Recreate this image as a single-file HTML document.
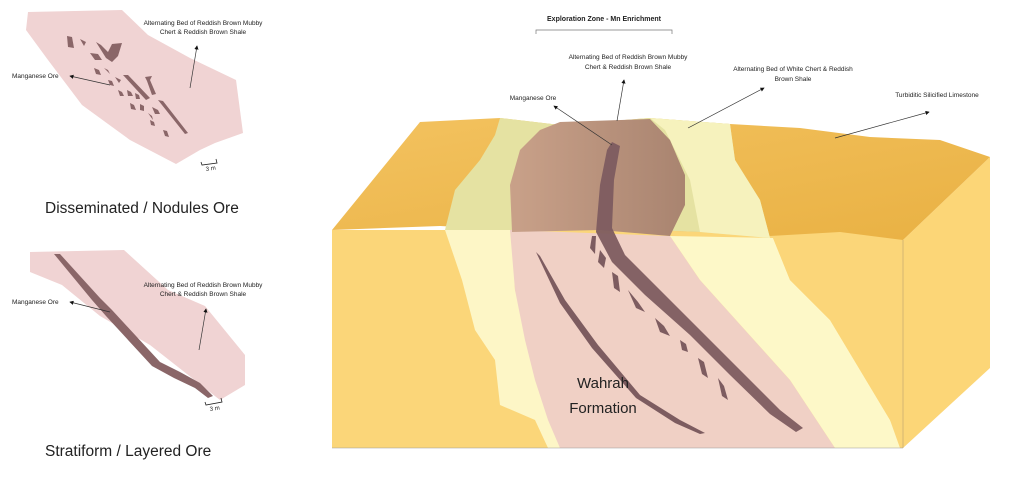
<!DOCTYPE html>
<html><head><meta charset="utf-8"><style>
html,body{margin:0;padding:0;background:#fff;}
svg{display:block;font-family:"Liberation Sans",sans-serif;}
</style></head><body>
<svg width="1024" height="490" viewBox="0 0 1024 490" xmlns="http://www.w3.org/2000/svg">
<defs>
<marker id="ah" markerWidth="6" markerHeight="6" refX="5" refY="3" orient="auto"><path d="M0,0 L6,3 L0,6 z" fill="#111"/></marker>
<linearGradient id="topO" x1="0" y1="0" x2="1" y2="1"><stop offset="0" stop-color="#f3c25f"/><stop offset="1" stop-color="#e9b143"/></linearGradient>
<linearGradient id="brn" x1="0" y1="0" x2="1" y2="0"><stop offset="0" stop-color="#c9a189"/><stop offset="1" stop-color="#a98470"/></linearGradient>
</defs>

<!-- Left top diagram -->
<path d="M28,12 L122,10 L148,35 L190,58 L236,80 L243,133 L215,143 L200,150 L176,164 L130,140 L82,105 L48,60 L26,30 Z" fill="#f0d3d3"/>
<g fill="#8a6668">
<path d="M67,36 L72,37 L74,48 L68,47 Z"/><path d="M80,39 L86,42 L84,46 Z"/>
<path d="M96,42 L101,45 L108,52 L112,44 L122,43 L118,56 L112,62 L106,58 Z"/>
<path d="M90,53 L98,54 L102,60 L95,60 Z"/>
<path d="M94,68 L99,70 L101,75 L96,74 Z"/><path d="M104,68 L108,70 L110,74 Z"/>
<path d="M108,80 L112,81 L114,86 L110,85 Z"/><path d="M115,77 L121,80 L119,83 Z"/>
<path d="M123,75 L128,75 L150,98 L146,100 Z"/><path d="M145,77 L152,76 L150,80 L156,94 L152,95 L147,81 Z"/>
<path d="M118,90 L122,92 L124,96 L120,96 Z"/><path d="M127,90 L131,92 L133,96 L128,96 Z"/>
<path d="M135,93 L139,95 L140,99 L136,99 Z"/>
<path d="M130,103 L134,105 L136,110 L131,109 Z"/><path d="M140,104 L144,106 L144,111 L140,110 Z"/>
<path d="M152,107 L158,110 L160,114 L155,114 Z"/><path d="M148,113 L152,116 L153,120 Z"/>
<path d="M150,120 L154,122 L155,126 L151,125 Z"/>
<path d="M158,100 L163,101 L188,133 L185,134 Z"/>
<path d="M163,130 L167,131 L169,137 L165,136 Z"/>
</g>
<text x="203" y="25" font-size="6.5" text-anchor="middle" fill="#222">Alternating Bed of Reddish Brown Mubby</text>
<text x="203" y="34" font-size="6.5" text-anchor="middle" fill="#222">Chert &amp; Reddish Brown Shale</text>
<line x1="190" y1="88" x2="197" y2="46" stroke="#333" stroke-width="0.7" marker-end="url(#ah)"/>
<text x="12" y="78" font-size="6.5" fill="#222">Manganese Ore</text>
<line x1="110" y1="85" x2="70" y2="76" stroke="#333" stroke-width="0.7" marker-end="url(#ah)"/>
<path d="M201,162 L202,165 L217,163 L216,159" stroke="#222" stroke-width="0.8" fill="none"/>
<text x="206" y="171" font-size="6" fill="#222" transform="rotate(-8 206 171)">3 m</text>
<text x="45" y="213" font-size="15.5" fill="#222">Disseminated / Nodules Ore</text>

<!-- Left bottom diagram -->
<path d="M30,252 L124,250 L168,290 L205,306 L245,355 L245,385 L220,400 L150,345 L100,316 L62,285 L30,272 Z" fill="#f0d3d3"/>
<path d="M54,254 L60,254 L100,298 L112,310 L160,362 L180,372 L200,383 L213,396 L208,398 L195,388 L174,378 L152,366 L106,316 L92,300 Z" fill="#8a6668"/>
<text x="203" y="287" font-size="6.5" text-anchor="middle" fill="#222">Alternating Bed of Reddish Brown Mubby</text>
<text x="203" y="296" font-size="6.5" text-anchor="middle" fill="#222">Chert &amp; Reddish Brown Shale</text>
<line x1="199" y1="350" x2="206" y2="309" stroke="#333" stroke-width="0.7" marker-end="url(#ah)"/>
<text x="12" y="304" font-size="6.5" fill="#222">Manganese Ore</text>
<line x1="110" y1="312" x2="70" y2="302" stroke="#333" stroke-width="0.7" marker-end="url(#ah)"/>
<path d="M205,402 L206,405 L222,402 L221,398" stroke="#222" stroke-width="0.8" fill="none"/>
<text x="210" y="411" font-size="6" fill="#222" transform="rotate(-8 210 411)">3 m</text>
<text x="45" y="456" font-size="15.5" fill="#222">Stratiform / Layered Ore</text>

<!-- Main block: front face -->
<rect x="332" y="230" width="571" height="218" fill="#fbd679"/>
<path d="M445,230 L512,230 L515,290 L530,340 L540,380 L552,420 L560,448 L548,448 L535,420 L500,405 L495,360 L475,330 L462,280 Z" fill="#fdf6c6"/>
<path d="M510,230 L670,236 L700,280 L745,330 L790,380 L835,448 L560,448 L548,420 L535,380 L525,340 L515,290 Z" fill="#f0d0c5"/>
<path d="M670,236 L773,238 L790,280 L830,320 L860,370 L890,420 L900,448 L835,448 L790,380 L745,330 L700,280 Z" fill="#fdf8c8"/>
<path d="M773,238 L903,244 L903,448 L890,420 L860,370 L830,320 L790,280 Z" fill="#fbd679"/>
<!-- right face -->
<path d="M903,240 L990,157 L990,368 L903,448 Z" fill="#fcd677"/>
<line x1="903" y1="240" x2="903" y2="448" stroke="#bba070" stroke-width="0.6"/>
<line x1="332" y1="448" x2="903" y2="448" stroke="#999" stroke-width="0.6"/>
<!-- top face -->
<path d="M332,230 L420,122 L500,118 L560,125 L650,118 L730,124 L800,128 L870,137 L940,140 L990,157 L903,240 L840,232 L770,236 L700,232 L600,228 L520,230 L440,226 Z" fill="url(#topO)"/>
<path d="M500,118 L560,125 L650,118 L730,124 L735,160 L760,200 L770,238 L700,232 L600,228 L520,230 L445,230 L455,190 L480,160 L495,135 Z" fill="#e5e2a2"/>
<path d="M650,118 L730,124 L735,160 L760,200 L770,238 L700,232 L690,180 L665,130 Z" fill="#f6f2bd"/>
<path d="M560,122 L650,119 L670,140 L685,175 L685,205 L670,236 L600,230 L512,232 L510,185 L520,150 L540,130 Z" fill="url(#brn)"/>
<!-- ore vein -->
<path d="M612,142 L620,146 L614,180 L612,228 L625,255 L650,280 L690,320 L740,370 L780,410 L803,428 L796,432 L770,414 L730,375 L690,335 L645,295 L612,262 L596,232 L600,185 L607,150 Z" fill="#7d5c60" opacity="0.95"/>
<g fill="#7d5c60">
<path d="M592,236 L596,236 L595,254 L590,248 Z"/>
<path d="M600,250 L606,258 L604,268 L598,262 Z"/>
<path d="M612,272 L618,276 L620,292 L614,288 Z"/>
<path d="M628,290 L638,302 L645,312 L636,308 Z"/>
<path d="M655,318 L664,326 L670,336 L660,332 Z"/>
<path d="M680,340 L686,344 L688,352 L682,350 Z"/>
<path d="M698,358 L704,362 L708,378 L702,374 Z"/>
<path d="M718,378 L724,386 L728,400 L722,396 Z"/>
<path d="M536,252 L540,256 L565,300 L598,345 L640,395 L680,420 L705,433 L700,434 L675,423 L636,398 L592,348 L560,303 Z"/>
</g>
<text x="603" y="388" font-size="15" text-anchor="middle" fill="#222">Wahrah</text>
<text x="603" y="413" font-size="15" text-anchor="middle" fill="#222">Formation</text>

<!-- top labels -->
<text x="604" y="21" font-size="7" font-weight="bold" text-anchor="middle" fill="#222">Exploration Zone - Mn Enrichment</text>
<path d="M536,34 L536,30 L672,30 L672,34" stroke="#777" stroke-width="0.7" fill="none"/>
<text x="628" y="59" font-size="6.5" text-anchor="middle" fill="#222">Alternating Bed of Reddish Brown Mubby</text>
<text x="628" y="69" font-size="6.5" text-anchor="middle" fill="#222">Chert &amp; Reddish Brown Shale</text>
<line x1="617" y1="121" x2="624" y2="80" stroke="#333" stroke-width="0.7" marker-end="url(#ah)"/>
<text x="793" y="71" font-size="6.5" text-anchor="middle" fill="#222">Alternating Bed of White Chert &amp; Reddish</text>
<text x="793" y="81" font-size="6.5" text-anchor="middle" fill="#222">Brown Shale</text>
<line x1="688" y1="128" x2="764" y2="88" stroke="#333" stroke-width="0.7" marker-end="url(#ah)"/>
<text x="533" y="100" font-size="6.5" text-anchor="middle" fill="#222">Manganese Ore</text>
<line x1="612" y1="145" x2="554" y2="106" stroke="#333" stroke-width="0.7" marker-end="url(#ah)"/>
<text x="937" y="97" font-size="6.5" text-anchor="middle" fill="#222">Turbiditic Silicified Limestone</text>
<line x1="835" y1="138" x2="929" y2="112" stroke="#333" stroke-width="0.7" marker-end="url(#ah)"/>
</svg>
</body></html>
